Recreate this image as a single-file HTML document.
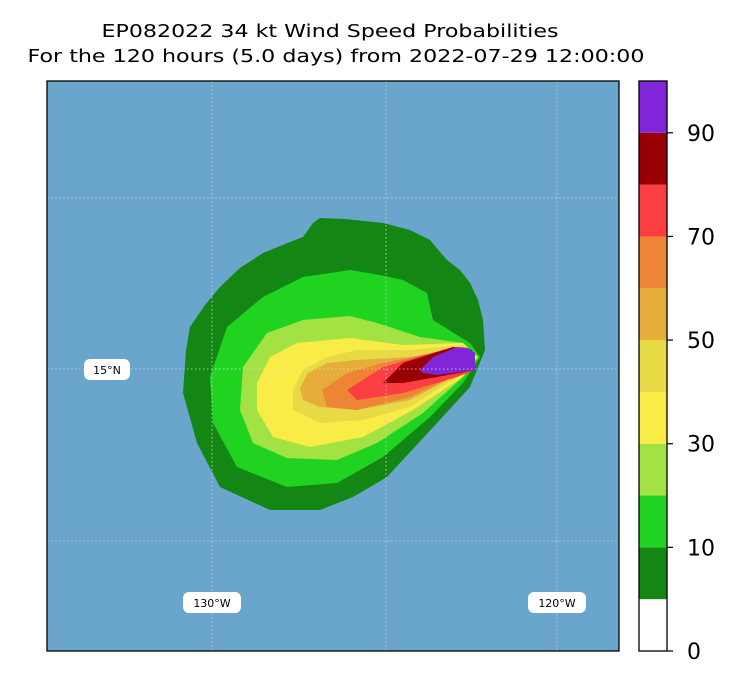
<!DOCTYPE html>
<html><head><meta charset="utf-8"><style>
body{margin:0;background:#fff;font-family:"DejaVu Sans","Liberation Sans",sans-serif}
</style></head><body>
<svg id="chart" width="742" height="689" xmlns="http://www.w3.org/2000/svg" font-family="'DejaVu Sans', 'Liberation Sans', sans-serif">
<text x="330" y="37" font-size="18" text-anchor="middle" textLength="457" lengthAdjust="spacingAndGlyphs">EP082022 34 kt Wind Speed Probabilities</text>
<text x="336" y="62" font-size="18" text-anchor="middle" textLength="617" lengthAdjust="spacingAndGlyphs">For the 120 hours (5.0 days) from 2022-07-29 12:00:00</text>
<rect x="47" y="81" width="572" height="570" fill="#6aa5cb"/>
<g id="contours"></g>
<g id="grid" stroke="#d8d8d8" stroke-width="1" stroke-dasharray="1.5,2.5" opacity="0.8">
<line x1="212" y1="81" x2="212" y2="651"/><line x1="386" y1="81" x2="386" y2="651"/><line x1="557" y1="81" x2="557" y2="651"/>
<line x1="47" y1="198" x2="619" y2="198"/><line x1="47" y1="369" x2="619" y2="369"/><line x1="47" y1="541" x2="619" y2="541"/>
</g>
<g><rect x="84" y="359" width="46" height="21" rx="6" fill="#fff"/><text x="107" y="374" font-size="11" text-anchor="middle">15°N</text></g>
<g><rect x="183" y="592" width="58" height="21" rx="6" fill="#fff"/><text x="212" y="607" font-size="11" text-anchor="middle">130°W</text></g>
<g><rect x="528" y="592" width="58" height="21" rx="6" fill="#fff"/><text x="557" y="607" font-size="11" text-anchor="middle">120°W</text></g>
<rect x="47" y="81" width="572" height="570" fill="none" stroke="#000" stroke-width="1.3"/>
<g id="cbar"></g>
</svg>
<script>
const levels=[0,5,10,20,30,40,50,60,70,80,90,100];
const bandColors=["#ffffff","#138613","#21d321","#a3e243","#f9ec46","#e8da44","#e6ad3b","#ee8436","#fa3e42","#990005","#8025d8"];
const tickLabels=[0,10,30,50,70,90];
// contour polygons (map pixel coords), ordered by band index 1..10
const contourBands=[1,2,3,4,5,6,7,8,9,10];
const contourShapes=[
[[313,223],[320,218],[345,219],[383,223],[410,230],[430,240],[440,252],[447,260],[460,270],[470,283],[478,300],[483,320],[485,350],[470,387],[437,423],[387,477],[353,497],[320,510],[270,510],[220,487],[197,443],[183,393],[186,350],[190,327],[205,305],[220,287],[240,268],[263,253],[290,242],[303,237]],
[[350,270],[380,275],[403,280],[427,293],[433,320],[470,343],[480,357],[463,383],[430,417],[383,457],[337,483],[287,487],[237,467],[213,423],[210,377],[227,327],[263,297],[303,277]],
[[350,316],[377,323],[420,337],[463,343],[478,357],[463,377],[423,413],[377,443],[337,460],[287,458],[253,443],[240,410],[243,367],[267,333],[303,320]],
[[350,338],[403,345],[463,343],[478,357],[463,377],[413,410],[363,437],[310,447],[273,437],[257,410],[257,383],[270,357],[297,343]],
[[357,350],[410,350],[463,345],[475,357],[463,373],[410,407],[363,420],[320,423],[293,410],[293,390],[303,370],[327,357]],
[[357,360],[410,357],[463,347],[475,357],[463,372],[410,400],[357,410],[320,407],[303,400],[300,388],[308,373],[327,363]],
[[347,373],[383,363],[463,347],[475,357],[463,372],[410,397],[357,410],[327,407],[322,390]],
[[347,390],[383,367],[453,347],[472,350],[475,370],[457,377],[403,393],[357,400]],
[[383,383],[403,363],[453,347],[472,350],[475,370],[437,377],[403,383]],
[[420,370],[433,357],[457,347],[468,348],[475,353],[475,370],[437,375],[423,373]]
];
const NS="http://www.w3.org/2000/svg";
const cg=document.getElementById('contours');
contourShapes.forEach((pts,i)=>{
  const p=document.createElementNS(NS,'polygon');
  
  
  p.setAttribute('points',pts.map(q=>q.join(',')).join(' '));
  p.setAttribute('fill',bandColors[contourBands[i]]);
  cg.appendChild(p);
});
// colorbar (equal-height bands per boundary index)
const cb=document.getElementById('cbar');
const cbX=639,cbW=28,cbTop=81,cbBot=651;
const nB=levels.length-1;
const yScale=v=>{const i=levels.indexOf(v);return cbBot-i/nB*(cbBot-cbTop);};
for(let i=0;i<nB;i++){
  const r=document.createElementNS(NS,'rect');
  
  
  r.setAttribute('x',cbX);r.setAttribute('y',yScale(levels[i+1]));
  r.setAttribute('width',cbW);r.setAttribute('height',yScale(levels[i])-yScale(levels[i+1]));
  r.setAttribute('fill',bandColors[i]);
  cb.appendChild(r);
}
const fr=document.createElementNS(NS,'rect');


fr.setAttribute('x',cbX);fr.setAttribute('y',cbTop);fr.setAttribute('width',cbW);fr.setAttribute('height',cbBot-cbTop);
fr.setAttribute('fill','none');fr.setAttribute('stroke','#000');fr.setAttribute('stroke-width','1.3');
cb.appendChild(fr);
tickLabels.forEach(v=>{
  const y=yScale(v);
  const l=document.createElementNS(NS,'line');
  
  
  l.setAttribute('x1',cbX+cbW);l.setAttribute('x2',cbX+cbW+6);l.setAttribute('y1',y);l.setAttribute('y2',y);
  l.setAttribute('stroke','#000');l.setAttribute('stroke-width','1.2');
  cb.appendChild(l);
  const t=document.createElementNS(NS,'text');
  
  
  t.setAttribute('x',cbX+cbW+20);t.setAttribute('y',y+8);t.setAttribute('font-size','22');
  t.textContent=v;
  cb.appendChild(t);
});
</script>
</body></html>
